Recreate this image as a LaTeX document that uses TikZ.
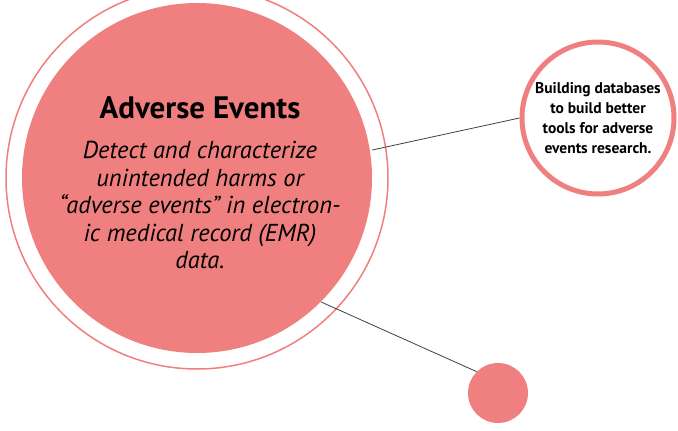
\documentclass[tikz,border=0pt]{standalone}
\usepackage{fontspec}
\setmainfont{PT Sans}
\definecolor{pinkc}{HTML}{F07F7F}
\begin{document}
\begin{tikzpicture}[x=1pt,y=-1pt]
\useasboundingbox (0,0) rectangle (678,431);
\begin{scope}
\clip (0,0) rectangle (678,431);
\node[circle,draw=pinkc,line width=1.5pt,fill=white,minimum size=382pt,inner sep=0] (outer) at (197,178) {};
\end{scope}
\node[circle,fill=pinkc,minimum size=350pt,inner sep=0] (big) at (197,178) {};
\node[circle,draw=pinkc,line width=5pt,fill=white,minimum size=152pt,inner sep=0] (right) at (598,118) {};
\node[circle,fill=pinkc,minimum size=60pt,inner sep=0] (small) at (498,393) {};
\draw[black!75,line width=0.8pt] (big.east) ++(0,-28) coordinate (a1) -- (right.west) ;
\draw[black!75,line width=0.8pt] (big.-45) -- (small.north west);
\node[font=\bfseries\fontsize{31}{34}\selectfont] (title) at (200,108) {Adverse Events};
\node[font=\itshape\fontsize{24.5}{27.5}\selectfont,align=center] (body) at (200,205) {Detect and characterize\\unintended harms or\\“adverse events” in electron-\\ic medical record (EMR)\\data.};
\node[font=\bfseries\fontsize{15.5}{20}\selectfont,align=center] (rt) at (598,118) {Building databases\\to build better\\tools for adverse\\events research.};
\end{tikzpicture}
\end{document}
